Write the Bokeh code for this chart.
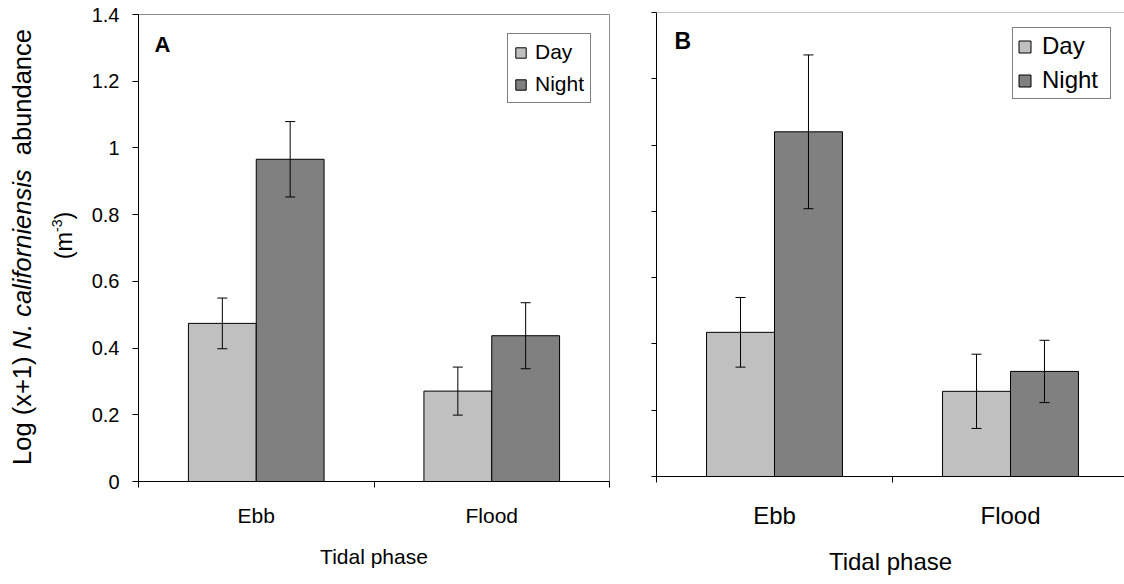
import math
from bokeh.plotting import figure
from bokeh.models import (Range1d, FixedTicker, LinearAxis, Whisker, TeeHead,
                          ColumnDataSource, Label, Span, Legend, LegendItem)
from bokeh.layouts import row, column
from bokeh.embed import file_html
from bokeh.resources import INLINE

# ---------------- data ----------------
categories = ["Ebb", "Flood"]
series = ["Day", "Night"]
a_day = [0.474, 0.271]
a_day_err = [0.076, 0.072]
a_night = [0.966, 0.437]
a_night_err = [0.113, 0.099]
b_day = [0.435, 0.257]
b_day_err = [0.105, 0.112]
b_night = [1.040, 0.317]
b_night_err = [0.232, 0.094]
y_ticks = [0, 0.2, 0.4, 0.6, 0.8, 1.0, 1.2, 1.4]
y_tick_labels = ["0", "0.2", "0.4", "0.6", "0.8", "1", "1.2", "1.4"]
x_title = "Tidal phase"
panel_letters = ["A", "B"]

FONT = "Liberation Sans"
DAY_COLOR = "#c0c0c0"
NIGHT_COLOR = "#808080"
BAR_W = 0.288
H = 584

# Arial / Liberation Sans advance widths (per 1000 em) for layout of rich label
W = {'L': 556, 'o': 556, 'g': 556, ' ': 278, '(': 333, 'x': 500, '+': 584, '1': 556,
     ')': 333, 'N': 722, '.': 278, 'c': 500, 'a': 556, 'l': 222, 'i': 222, 'f': 278,
     'r': 333, 'n': 556, 'e': 556, 's': 500, 'b': 556, 'u': 556, 'd': 556, 'm': 833,
     '-': 333, '3': 556}


def tw(s, size):
    return sum(W.get(ch, 556) for ch in s) * size / 1000.0


def make_panel(day, day_err, night, night_err, letter, width,
               mb_left, mb_right, mb_top, mb_bottom, x_end, fs, show_ylabels,
               legend_loc, glyph, cap, letter_off, letter_fs, outline,
               tick_std, title_std, ytick_out, legend_pad, legend_standoff,
               legend_spacing, legend_lh, legend_lw):
    p = figure(width=width, height=H, output_backend="svg", toolbar_location=None,
               x_range=Range1d(0, x_end), y_range=Range1d(0, 1.4),
               x_axis_type=None, y_axis_type=None,
               min_border_left=mb_left, min_border_right=mb_right,
               min_border_top=mb_top, min_border_bottom=mb_bottom)
    p.background_fill_color = "white"
    p.border_fill_color = "white"
    if outline:
        p.outline_line_color = "#8c8c8c"
        p.outline_line_width = 1
    else:
        p.outline_line_color = None
        p.add_layout(Span(location=1.4, dimension="width", line_color="#8c8c8c", line_width=1))

    centers = [i + 0.5 for i in range(len(categories))]
    bounds = list(range(len(categories) + 1))

    xaxis = LinearAxis(ticker=FixedTicker(ticks=centers, minor_ticks=bounds),
                       major_label_overrides={c: n for c, n in zip(centers, categories)},
                       axis_label=x_title)
    xaxis.axis_line_color = "black"
    xaxis.axis_line_width = 1
    xaxis.major_tick_line_color = None
    xaxis.major_tick_in = 0
    xaxis.major_tick_out = 0
    xaxis.minor_tick_line_color = "black"
    xaxis.minor_tick_in = 0
    xaxis.minor_tick_out = 6
    xaxis.major_label_text_font = FONT
    xaxis.major_label_text_font_size = f"{fs}px"
    xaxis.major_label_text_color = "black"
    xaxis.major_label_standoff = tick_std
    xaxis.axis_label_text_font = FONT
    xaxis.axis_label_text_font_size = f"{fs}px"
    xaxis.axis_label_text_font_style = "normal"
    xaxis.axis_label_text_color = "black"
    xaxis.axis_label_standoff = title_std
    p.add_layout(xaxis, "below")

    if show_ylabels:
        overrides = dict(zip(y_ticks, y_tick_labels))
    else:
        overrides = {t: "" for t in y_ticks}
    yaxis = LinearAxis(ticker=FixedTicker(ticks=y_ticks, minor_ticks=[]),
                       major_label_overrides=overrides)
    yaxis.axis_line_color = "black"
    yaxis.major_tick_line_color = "black"
    yaxis.major_tick_in = 0
    yaxis.major_tick_out = ytick_out
    yaxis.minor_tick_line_color = None
    yaxis.major_label_text_font = FONT
    yaxis.major_label_text_color = "black"
    yaxis.major_label_text_font_size = "20px"
    yaxis.major_label_standoff = 13 if show_ylabels else 0
    p.add_layout(yaxis, "left")

    day_src = ColumnDataSource(dict(
        x=[c - BAR_W / 2 for c in centers], top=day,
        upper=[v + e for v, e in zip(day, day_err)],
        lower=[v - e for v, e in zip(day, day_err)]))
    night_src = ColumnDataSource(dict(
        x=[c + BAR_W / 2 for c in centers], top=night,
        upper=[v + e for v, e in zip(night, night_err)],
        lower=[v - e for v, e in zip(night, night_err)]))

    r_day = p.vbar(x="x", top="top", bottom=0, width=BAR_W, source=day_src,
                   fill_color=DAY_COLOR, line_color="black", line_width=1)
    r_night = p.vbar(x="x", top="top", bottom=0, width=BAR_W, source=night_src,
                     fill_color=NIGHT_COLOR, line_color="black", line_width=1)

    for src in (day_src, night_src):
        p.add_layout(Whisker(base="x", upper="upper", lower="lower", source=src,
                             dimension="height", line_color="black", line_width=1,
                             level="annotation",
                             upper_head=TeeHead(size=cap, line_color="black", line_width=1),
                             lower_head=TeeHead(size=cap, line_color="black", line_width=1)))

    legend = Legend(items=[LegendItem(label=series[0], renderers=[r_day]),
                           LegendItem(label=series[1], renderers=[r_night])],
                    location=legend_loc)
    legend.border_line_color = "black"
    legend.border_line_width = 1
    legend.background_fill_color = "white"
    legend.background_fill_alpha = 1
    legend.label_text_font = FONT
    legend.label_text_font_size = f"{fs}px"
    legend.label_text_color = "black"
    legend.glyph_width = glyph
    legend.glyph_height = glyph
    legend.label_standoff = legend_standoff
    legend.padding = legend_pad
    legend.spacing = legend_spacing
    legend.label_height = legend_lh
    legend.label_width = legend_lw
    legend.margin = 0
    p.add_layout(legend)

    p.add_layout(Label(x=0, y=1.4, x_offset=letter_off[0], y_offset=letter_off[1],
                       text=letter, text_font=FONT, text_font_size=f"{letter_fs}px",
                       text_font_style="bold", text_color="black",
                       text_align="left", text_baseline="alphabetic"))
    return p


# ---------- y-axis title column (1 data unit = 1 px, y measured up from canvas bottom) ----------
TW = 88
A_TOP, A_BOT = 14, 103
pT = figure(width=TW, height=H, output_backend="svg", toolbar_location=None,
            x_range=Range1d(0, TW), y_range=Range1d(A_BOT, H - A_TOP),
            x_axis_type=None, y_axis_type=None,
            min_border_left=0, min_border_right=0, min_border_top=A_TOP,
            min_border_bottom=A_BOT)
pT.outline_line_color = None
pT.background_fill_color = "white"
pT.border_fill_color = "white"

# pieces: (text, style, gap before in px)
F1 = 25.5
line1 = [("Log (x+1)", "normal", 0), ("N. californiensis", "italic", tw(" ", F1)),
         ("abundance", "normal", tw("  ", F1))]
total1 = sum(tw(s, F1) + g for s, _, g in line1)
pos = (H - 246.5) - total1 / 2
for s, style, g in line1:
    pos += g
    pT.add_layout(Label(x=21, y=pos, text=s, angle=90, angle_units="deg",
                        text_font=FONT, text_font_size=f"{F1}px",
                        text_font_style=style, text_color="black",
                        text_align="left", text_baseline="alphabetic"))
    pos += tw(s, F1)

F2 = 23.5
FS = 14
line2 = [("(m", F2, 63), ("-3", FS, 56), (")", F2, 63)]
total2 = sum(tw(s, f) for s, f, _ in line2)
pos = (H - 235) - total2 / 2
for s, f, bx in line2:
    pT.add_layout(Label(x=bx, y=pos, text=s, angle=90, angle_units="deg",
                        text_font=FONT, text_font_size=f"{f}px",
                        text_color="black", text_align="left", text_baseline="alphabetic"))
    pos += tw(s, f)

# ---------- panel A ----------
pA = make_panel(a_day, a_day_err, a_night, a_night_err, panel_letters[0],
                width=630 - TW, mb_left=137 - TW, mb_right=21, mb_top=A_TOP, mb_bottom=A_BOT,
                x_end=2.0, fs=21, show_ylabels=True, legend_loc=(369, 378), glyph=13, cap=10,
                letter_off=(16, -30), letter_fs=22, outline=True,
                tick_std=16, title_std=15, ytick_out=6,
                legend_pad=6, legend_standoff=8, legend_spacing=8, legend_lh=24, legend_lw=20)

# ---------- panel B ----------
frame_a = 630 - 137 - 21
frame_b = 494 - 26
pB = make_panel(b_day, b_day_err, b_night, b_night_err, panel_letters[1],
                width=494, mb_left=26, mb_right=0, mb_top=12, mb_bottom=108,
                x_end=2.0 * frame_b / frame_a, fs=24, show_ylabels=False,
                legend_loc=(356, 377), glyph=15, cap=10,
                letter_off=(18, -28), letter_fs=23, outline=False,
                tick_std=19, title_std=16, ytick_out=5,
                legend_pad=4, legend_standoff=10, legend_spacing=6, legend_lh=24, legend_lw=64)

layout = row(column(pT), column(pA), column(pB))
open("out.html", "w").write(file_html(layout, INLINE))
